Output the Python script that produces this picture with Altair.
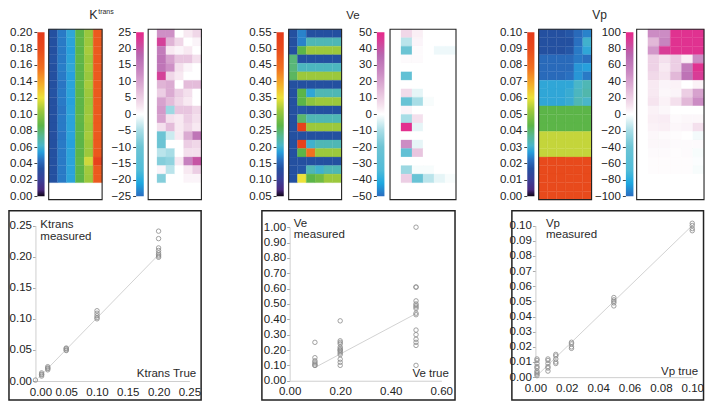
import altair as alt
import pandas as pd

# ---------------- canvas mapping (reference pixel -> chart pixel) ----------------
W, H = 697, 393
SX = 697 / 711
SY = 393 / 407


def X(r):
    return round((r - 2) * SX, 2)


def Y(r):
    return round((r - 2) * SY, 2)


FONT = "Liberation Sans"

# ---------------- colour maps ----------------
VAL_STOPS = [0.0, 0.04, 0.10, 0.17, 0.22, 0.27, 0.31, 0.37, 0.43, 0.52, 0.60, 0.68, 0.78, 0.90, 1.0]
VAL_COLORS = ["#0d0515", "#4a2a80", "#3a3f98", "#2450a0", "#2a70c0", "#27a0dc", "#4ab6c8",
              "#58b890", "#5cb548", "#9cc83c", "#ece23a", "#f4b02a", "#f07020", "#e84a1c", "#e53a1a"]
ERR_STOPS = [0.0, 0.08, 0.16, 0.30, 0.40, 0.47, 0.50, 0.55, 0.65, 0.75, 0.86, 0.95, 1.0]
ERR_COLORS = ["#2a6cc0", "#1ea8e0", "#50bcd8", "#6cc4d4", "#a8dde6", "#e6f5f7", "#ffffff",
              "#f6e4ef", "#e2b8d8", "#cc8cc4", "#b868b0", "#d83c96", "#e8288a"]

# ---------------- colour-bar ranges and ticks ----------------
ktrans_range = [0.0, 0.20]
ktrans_ticks = [0.0, 0.02, 0.04, 0.06, 0.08, 0.10, 0.12, 0.14, 0.16, 0.18, 0.20]
ktrans_err_range = [-25, 25]
ktrans_err_ticks = [-25, -20, -15, -10, -5, 0, 5, 10, 15, 20, 25]
ve_range = [0.05, 0.55]
ve_ticks = [0.05, 0.10, 0.15, 0.20, 0.25, 0.30, 0.35, 0.40, 0.45, 0.50, 0.55]
ve_err_range = [-50, 50]
ve_err_ticks = [-50, -40, -30, -20, -10, 0, 10, 20, 30, 40, 50]
vp_range = [0.0, 0.10]
vp_ticks = [0.0, 0.01, 0.02, 0.03, 0.04, 0.05, 0.06, 0.07, 0.08, 0.09, 0.10]
vp_err_range = [-100, 100]
vp_err_ticks = [-100, -80, -60, -40, -20, 0, 20, 40, 60, 80, 100]

# ---------------- parameter maps (rows top->bottom, 6 columns) ----------------
ktrans_map = [
    [0.034, 0.046, 0.056, 0.086, 0.103, 0.170],
    [0.034, 0.046, 0.055, 0.087, 0.104, 0.170],
    [0.034, 0.046, 0.054, 0.086, 0.106, 0.170],
    [0.035, 0.046, 0.055, 0.087, 0.104, 0.171],
    [0.034, 0.047, 0.056, 0.086, 0.105, 0.170],
    [0.034, 0.046, 0.054, 0.086, 0.103, 0.170],
    [0.034, 0.045, 0.055, 0.087, 0.106, 0.170],
    [0.035, 0.046, 0.055, 0.086, 0.104, 0.170],
    [0.034, 0.046, 0.054, 0.086, 0.103, 0.170],
    [0.034, 0.045, 0.055, 0.086, 0.104, 0.170],
    [0.034, 0.046, 0.055, 0.087, 0.105, 0.170],
    [0.034, 0.046, 0.055, 0.086, 0.104, 0.170],
    [0.033, 0.045, 0.055, 0.086, 0.106, 0.171],
    [0.034, 0.046, 0.054, 0.086, 0.104, 0.170],
    [0.034, 0.046, 0.055, 0.086, 0.104, 0.172],
    [0.034, 0.046, 0.055, 0.087, 0.114, 0.190],
    [0.034, 0.046, 0.055, 0.086, 0.105, 0.170],
    [0.034, 0.046, 0.055, 0.086, 0.104, 0.170],
]
ktrans_err = [
    [0, 12, 12, 0, 2, 4],
    [0, 22, 8, 4, 0, 1],
    [0, 15, 2, 1, 2, 0],
    [0, 16, 10, 6, 6, 3],
    [0, 16, 12, 3, 1, 0],
    [0, 22, 4, 2, 0, 0],
    [0, 8, 9, 0, 7, 7],
    [0, 5, 9, 5, 3, 0],
    [0, 10, 7, 4, 2, 0],
    [0, 11, -6, 6, 6, 4],
    [0, 10, 3, 2, 5, 3],
    [0, 3, 7, 2, 4, 2],
    [0, -10, -3, 2, 9, 16],
    [0, -10, 0, 0, 5, 4],
    [0, -4, -5, 0, 3, 3],
    [0, -8, -7, 2, 14, 20],
    [0, 1, -4, 0, 2, 5],
    [0, -8, 0, 0, 1, 1],
]
ve_map = [
    [0.135, 0.170, 0.135, 0.135, 0.135, 0.135],
    [0.135, 0.170, 0.215, 0.215, 0.215, 0.215],
    [0.135, 0.265, 0.310, 0.310, 0.310, 0.310],
    [0.245, 0.135, 0.135, 0.135, 0.135, 0.135],
    [0.245, 0.210, 0.210, 0.210, 0.210, 0.210],
    [0.255, 0.310, 0.310, 0.310, 0.310, 0.310],
    [0.135, 0.135, 0.135, 0.135, 0.135, 0.135],
    [0.135, 0.265, 0.190, 0.215, 0.215, 0.215],
    [0.135, 0.265, 0.300, 0.310, 0.310, 0.310],
    [0.135, 0.140, 0.135, 0.135, 0.135, 0.135],
    [0.135, 0.250, 0.215, 0.215, 0.215, 0.215],
    [0.135, 0.525, 0.310, 0.310, 0.310, 0.310],
    [0.135, 0.135, 0.135, 0.135, 0.135, 0.135],
    [0.135, 0.525, 0.200, 0.215, 0.215, 0.215],
    [0.135, 0.265, 0.440, 0.310, 0.310, 0.310],
    [0.135, 0.135, 0.135, 0.135, 0.135, 0.135],
    [0.135, 0.140, 0.215, 0.200, 0.215, 0.215],
    [0.135, 0.350, 0.265, 0.280, 0.310, 0.310],
]
ve_err = [
    [0, 8, 3, 0, 0, 0],
    [0, -8, 2, 0, 0, 0],
    [0, -20, 1, 0, -2, -2],
    [0, 1, 1, 0, 0, 0],
    [0, 0, 0, 0, 0, 0],
    [0, -25, 0, 0, 0, 0],
    [0, 0, 0, 0, 0, 0],
    [0, 7, -3, 0, 0, 0],
    [0, -22, -10, -1, 0, 0],
    [0, 2, 0, 0, 0, 0],
    [0, -10, 6, 0, 0, 0],
    [0, 48, -3, 0, 0, 0],
    [0, 0, 0, 0, 0, 0],
    [0, 25, -3, 0, 0, 0],
    [0, -25, 12, 0, 0, 0],
    [0, 0, 0, 0, 0, 0],
    [0, -12, -1, -1, 0, 0],
    [0, 10, -22, -8, -3, -1],
]
vp_map = [
    [0.017, 0.017, 0.017, 0.018, 0.021, 0.024],
    [0.017, 0.017, 0.017, 0.017, 0.022, 0.030],
    [0.017, 0.017, 0.017, 0.018, 0.023, 0.028],
    [0.021, 0.021, 0.021, 0.021, 0.023, 0.022],
    [0.021, 0.021, 0.021, 0.021, 0.026, 0.027],
    [0.021, 0.021, 0.021, 0.022, 0.026, 0.023],
    [0.028, 0.028, 0.028, 0.028, 0.031, 0.033],
    [0.028, 0.028, 0.028, 0.029, 0.032, 0.034],
    [0.028, 0.028, 0.028, 0.029, 0.033, 0.031],
    [0.043, 0.043, 0.043, 0.043, 0.043, 0.043],
    [0.043, 0.043, 0.043, 0.043, 0.043, 0.043],
    [0.043, 0.043, 0.043, 0.043, 0.043, 0.043],
    [0.056, 0.056, 0.056, 0.056, 0.056, 0.056],
    [0.056, 0.056, 0.056, 0.056, 0.056, 0.056],
    [0.056, 0.056, 0.056, 0.056, 0.056, 0.056],
    [0.090, 0.090, 0.090, 0.090, 0.090, 0.090],
    [0.090, 0.090, 0.090, 0.090, 0.090, 0.090],
    [0.090, 0.090, 0.090, 0.090, 0.090, 0.090],
    [0.090, 0.090, 0.090, 0.090, 0.090, 0.090],
    [0.090, 0.090, 0.090, 0.090, 0.090, 0.090],
]
vp_err = [
    [0, 50, 50, 95, 95, 95],
    [0, 30, 55, 95, 95, 95],
    [0, 45, 90, 95, 95, 95],
    [0, 18, 12, 20, 6, 50],
    [0, 18, 8, 20, 60, 95],
    [0, 15, 10, 30, 65, 90],
    [0, 8, 4, 5, 0, 5],
    [0, 8, 3, 4, 20, 40],
    [0, 10, 5, 12, 30, 50],
    [0, 5, 3, 0, 0, 0],
    [0, 6, 7, 2, 3, 3],
    [0, 5, 6, 3, 4, 12],
    [0, 3, 2, 1, 0, -3],
    [0, 3, 3, 2, 2, 2],
    [0, 2, 2, 1, 2, -2],
    [0, 1, 1, 1, 1, -1],
    [0, 1, 1, 1, 1, -2],
    [0, 0, 0, 0, 0, 0],
    [0, 0, 0, 0, 0, 0],
    [0, 0, 0, 0, 0, 0],
]

# ---------------- scatter data ----------------
ktrans_true = [0.0, 0.01, 0.01, 0.01, 0.01, 0.02, 0.02, 0.02, 0.02, 0.05, 0.05, 0.05, 0.05,
               0.10, 0.10, 0.10, 0.10, 0.10, 0.20, 0.20, 0.20, 0.20, 0.20, 0.20, 0.20, 0.20]
ktrans_meas = [0.0015, 0.008, 0.010, 0.011, 0.013, 0.018, 0.020, 0.021, 0.023, 0.049, 0.050, 0.052, 0.053,
               0.100, 0.102, 0.105, 0.109, 0.113, 0.199, 0.201, 0.203, 0.206, 0.210, 0.214, 0.229, 0.241]
ktrans_fit_x = [0.005, 0.20]
ktrans_fit_y = [0.005, 0.203]

ve_true = [0.1, 0.1, 0.1, 0.1, 0.1, 0.1, 0.1,
           0.2, 0.2, 0.2, 0.2, 0.2, 0.2, 0.2, 0.2, 0.2, 0.2, 0.2, 0.2, 0.2, 0.2,
           0.5, 0.5, 0.5, 0.5, 0.5, 0.5, 0.5, 0.5, 0.5, 0.5, 0.5, 0.5, 0.5, 0.5, 0.5, 0.5]
ve_meas = [0.25, 0.15, 0.13, 0.12, 0.11, 0.10, 0.10,
           0.39, 0.26, 0.25, 0.24, 0.22, 0.21, 0.20, 0.20, 0.19, 0.18, 0.17, 0.14, 0.12, 0.10,
           1.00, 0.61, 0.61, 0.52, 0.50, 0.49, 0.48, 0.47, 0.44, 0.43, 0.33, 0.30, 0.27, 0.25, 0.23, 0.10]
ve_fit_x = [0.10, 0.50]
ve_fit_y = [0.086, 0.437]

vp_true = [0.001, 0.001, 0.001, 0.001, 0.001, 0.001, 0.001, 0.001, 0.001,
           0.008, 0.008, 0.008, 0.008, 0.008, 0.008,
           0.013, 0.013, 0.013, 0.013, 0.013,
           0.023, 0.023, 0.023, 0.023,
           0.050, 0.050, 0.050, 0.050, 0.050,
           0.100, 0.100, 0.100, 0.100]
vp_meas = [0.001, 0.002, 0.003, 0.004, 0.006, 0.007, 0.009, 0.011, 0.012,
           0.004, 0.006, 0.007, 0.009, 0.011, 0.012,
           0.009, 0.010, 0.012, 0.014, 0.015,
           0.019, 0.020, 0.022, 0.023,
           0.047, 0.049, 0.050, 0.051, 0.0525,
           0.0966, 0.098, 0.100, 0.1015]
vp_fit_x = [0.001, 0.100]
vp_fit_y = [0.001, 0.100]

DUMMY = alt.Data(values=[{"k": 1}])
TXT = "#2a2a2a"

# ---------------- builders ----------------


def gradient(stops, colors):
    return {"gradient": "linear", "x1": 0, "y1": 1, "x2": 0, "y2": 0,
            "stops": [{"offset": o, "color": c} for o, c in zip(stops, colors)]}


def colorbar(rng, ticks, fmt, cb_l, cb_r, stops, colors):
    df = pd.DataFrame({"lo": [rng[0]], "hi": [rng[1]]})
    return alt.Chart(df).mark_rect(fill=gradient(stops, colors)).encode(
        x=alt.value(X(cb_l)), x2=alt.value(X(cb_r)),
        y=alt.Y("lo:Q", scale=alt.Scale(domain=rng, range=[Y(197), Y(27)], nice=False, zero=False),
                axis=alt.Axis(orient="left", offset=-X(cb_l) + 0.5, values=ticks, format=fmt, title=None,
                              domain=False, ticks=True, tickSize=3, tickColor="#444", labelPadding=2,
                              grid=False, labelOverlap=False, labelFlush=False)),
        y2="hi:Q",
    )


def heatmap(rows, rng, box_l, box_r, stops, colors):
    recs = []
    for r, row in enumerate(rows):
        for c, v in enumerate(row):
            recs.append({"r": r, "c": c, "v": v})
    df = pd.DataFrame(recs)
    dom = [rng[0] + s * (rng[1] - rng[0]) for s in stops]
    return alt.Chart(df).transform_calculate(c2="datum.c + 1", r2="datum.r + 1").mark_rect(
        strokeWidth=0.3).encode(
        x=alt.X("c:Q", scale=alt.Scale(domain=[0, 6], range=[X(box_l), X(box_r)], nice=False, zero=False),
                axis=None),
        x2="c2:Q",
        y=alt.Y("r:Q", scale=alt.Scale(domain=[0, 20], range=[Y(24), Y(200.5)], nice=False, zero=False),
                axis=None),
        y2="r2:Q",
        color=alt.Color("v:Q", scale=alt.Scale(domain=dom, range=colors, interpolate="rgb"), legend=None),
        stroke=alt.Color("v:Q", scale=alt.Scale(domain=dom, range=colors, interpolate="rgb"), legend=None),
    )


def frame(l, t, r, b, sw, col="#222"):
    return alt.Chart(DUMMY).mark_rect(fillOpacity=0, stroke=col, strokeWidth=sw).encode(
        x=alt.value(X(l)), x2=alt.value(X(r)), y=alt.value(Y(t)), y2=alt.value(Y(b)))


def label(txt, x, y, size=11.5, align="left"):
    return alt.Chart(DUMMY).mark_text(text=txt, font=FONT, fontSize=size, align=align,
                                      baseline="alphabetic").encode(
        x=alt.value(X(x)), y=alt.value(Y(y)), color=alt.value(TXT))


def scatter(xs, ys, fx, fy, xdom, ydom, xr, yr, xticks, yticks, xfmt, yfmt, first_shift=0):
    pts = pd.DataFrame({"t": xs, "m": ys})
    fit = pd.DataFrame({"t": fx, "m": fy})
    xsc = alt.Scale(domain=xdom, range=[X(xr[0]), X(xr[1])], nice=False, zero=False)
    ysc = alt.Scale(domain=ydom, range=[Y(yr[0]), Y(yr[1])], nice=False, zero=False)
    xax = alt.Axis(orient="bottom", offset=round(Y(yr[0]) - H, 2), values=xticks, format=xfmt, title=None,
                   ticks=False, labelPadding=5, domainColor="#cfcfcf", grid=False, labelOverlap=False,
                   labelFlush=False,
                   labelOffset={"condition": {"test": "datum.value === 0", "value": first_shift}, "value": 0})
    yax = alt.Axis(orient="left", offset=-X(xr[0]), values=yticks, format=yfmt, title=None,
                   tickSize=3, tickColor="#aaa", labelPadding=1, domainColor="#cfcfcf", grid=False,
                   labelOverlap=False, labelFlush=False)
    line = alt.Chart(fit).mark_line(color="#cdcdcd", strokeWidth=0.9).encode(
        x=alt.X("t:Q", scale=xsc, axis=xax), y=alt.Y("m:Q", scale=ysc, axis=yax))
    points = alt.Chart(pts).mark_point(shape="circle", filled=False, color="#8a8a8a", size=20,
                                       strokeWidth=0.8, opacity=1).encode(
        x=alt.X("t:Q", scale=xsc, axis=xax), y=alt.Y("m:Q", scale=ysc, axis=yax))
    return alt.layer(line, points)


layers = [
    # ---- top row : Ktrans
    heatmap(ktrans_map, ktrans_range, 43.5, 98, VAL_STOPS, VAL_COLORS),
    colorbar(ktrans_range, ktrans_ticks, ".2f", 32, 39.3, VAL_STOPS, VAL_COLORS),
    frame(43.5, 24, 98, 200.5, 1.1),
    heatmap(ktrans_err, ktrans_err_range, 145, 199.3, ERR_STOPS, ERR_COLORS),
    colorbar(ktrans_err_range, ktrans_err_ticks, "d", 132.7, 140.5, ERR_STOPS, ERR_COLORS),
    frame(145, 24, 199.3, 200.5, 1.1),
    # ---- top row : Ve
    heatmap(ve_map, ve_range, 288.3, 342.3, VAL_STOPS, VAL_COLORS),
    colorbar(ve_range, ve_ticks, ".2f", 276, 283.3, VAL_STOPS, VAL_COLORS),
    frame(288.3, 24, 342.3, 200.5, 1.1),
    heatmap(ve_err, ve_err_range, 391.7, 459, ERR_STOPS, ERR_COLORS),
    colorbar(ve_err_range, ve_err_ticks, "d", 378.3, 386, ERR_STOPS, ERR_COLORS),
    frame(391.7, 24, 459, 200.5, 1.1),
    # ---- top row : Vp
    heatmap(vp_map, vp_range, 543.3, 597.3, VAL_STOPS, VAL_COLORS),
    colorbar(vp_range, vp_ticks, ".2f", 531.7, 539, VAL_STOPS, VAL_COLORS),
    frame(543.3, 24, 597.3, 200.5, 1.1),
    heatmap(vp_err, vp_err_range, 643.3, 712, ERR_STOPS, ERR_COLORS),
    colorbar(vp_err_range, vp_err_ticks, "d", 632.3, 640, ERR_STOPS, ERR_COLORS),
    frame(643.3, 24, 712, 200.5, 1.1),
    # ---- titles
    label("K", 85, 13.5, size=12.5),
    label("trans", 94, 8, size=7),
    label("Ve", 347, 13, size=11.5),
    label("Vp", 598, 13, size=12),
    # ---- bottom row : scatter plots
    scatter(ktrans_true, ktrans_meas, ktrans_fit_x, ktrans_fit_y, [0, 0.25], [0, 0.25],
            [30, 187], [388.3, 227.3], [0, 0.05, 0.10, 0.15, 0.20, 0.25],
            [0, 0.05, 0.10, 0.15, 0.20, 0.25], ".2f", ".2f", first_shift=5),
    frame(3, 212, 199, 408, 1.5),
    label("Ktrans", 35, 229.5),
    label("measured", 35, 242),
    label("Ktrans True", 194, 384.5, align="right"),
    scatter(ve_true, ve_meas, ve_fit_x, ve_fit_y, [0, 0.6], [0, 1.0],
            [289.3, 444], [388, 229], [0, 0.2, 0.4, 0.6],
            [0, 0.1, 0.2, 0.3, 0.4, 0.5, 0.6, 0.7, 0.8, 0.9, 1.0], ".2f", ".2f"),
    frame(261, 212, 458, 408, 1.5),
    label("Ve", 293.5, 228.5),
    label("measured", 293.5, 240.5),
    label("Ve true", 451.7, 384, align="right"),
    scatter(vp_true, vp_meas, vp_fit_x, vp_fit_y, [0, 0.10], [0, 0.10],
            [540, 700], [384.3, 227.3], [0, 0.02, 0.04, 0.06, 0.08, 0.10],
            [0, 0.01, 0.02, 0.03, 0.04, 0.05, 0.06, 0.07, 0.08, 0.09, 0.10], ".2f", ".2f"),
    frame(516, 212, 711.5, 408, 1.5),
    label("Vp", 550.7, 228.3),
    label("measured", 550.7, 240.3),
    label("Vp true", 706, 382, align="right"),
]

chart = alt.layer(*layers).resolve_scale(
    x="independent", y="independent", color="independent", stroke="independent"
).properties(
    width=W, height=H, autosize=alt.AutoSizeParams(type="none"), padding=0
).configure_view(stroke=None).configure_axis(
    labelFont=FONT, labelFontSize=11.5, labelColor="#222"
)

chart.save("out.html", embed_options={"renderer": "svg", "actions": False})
